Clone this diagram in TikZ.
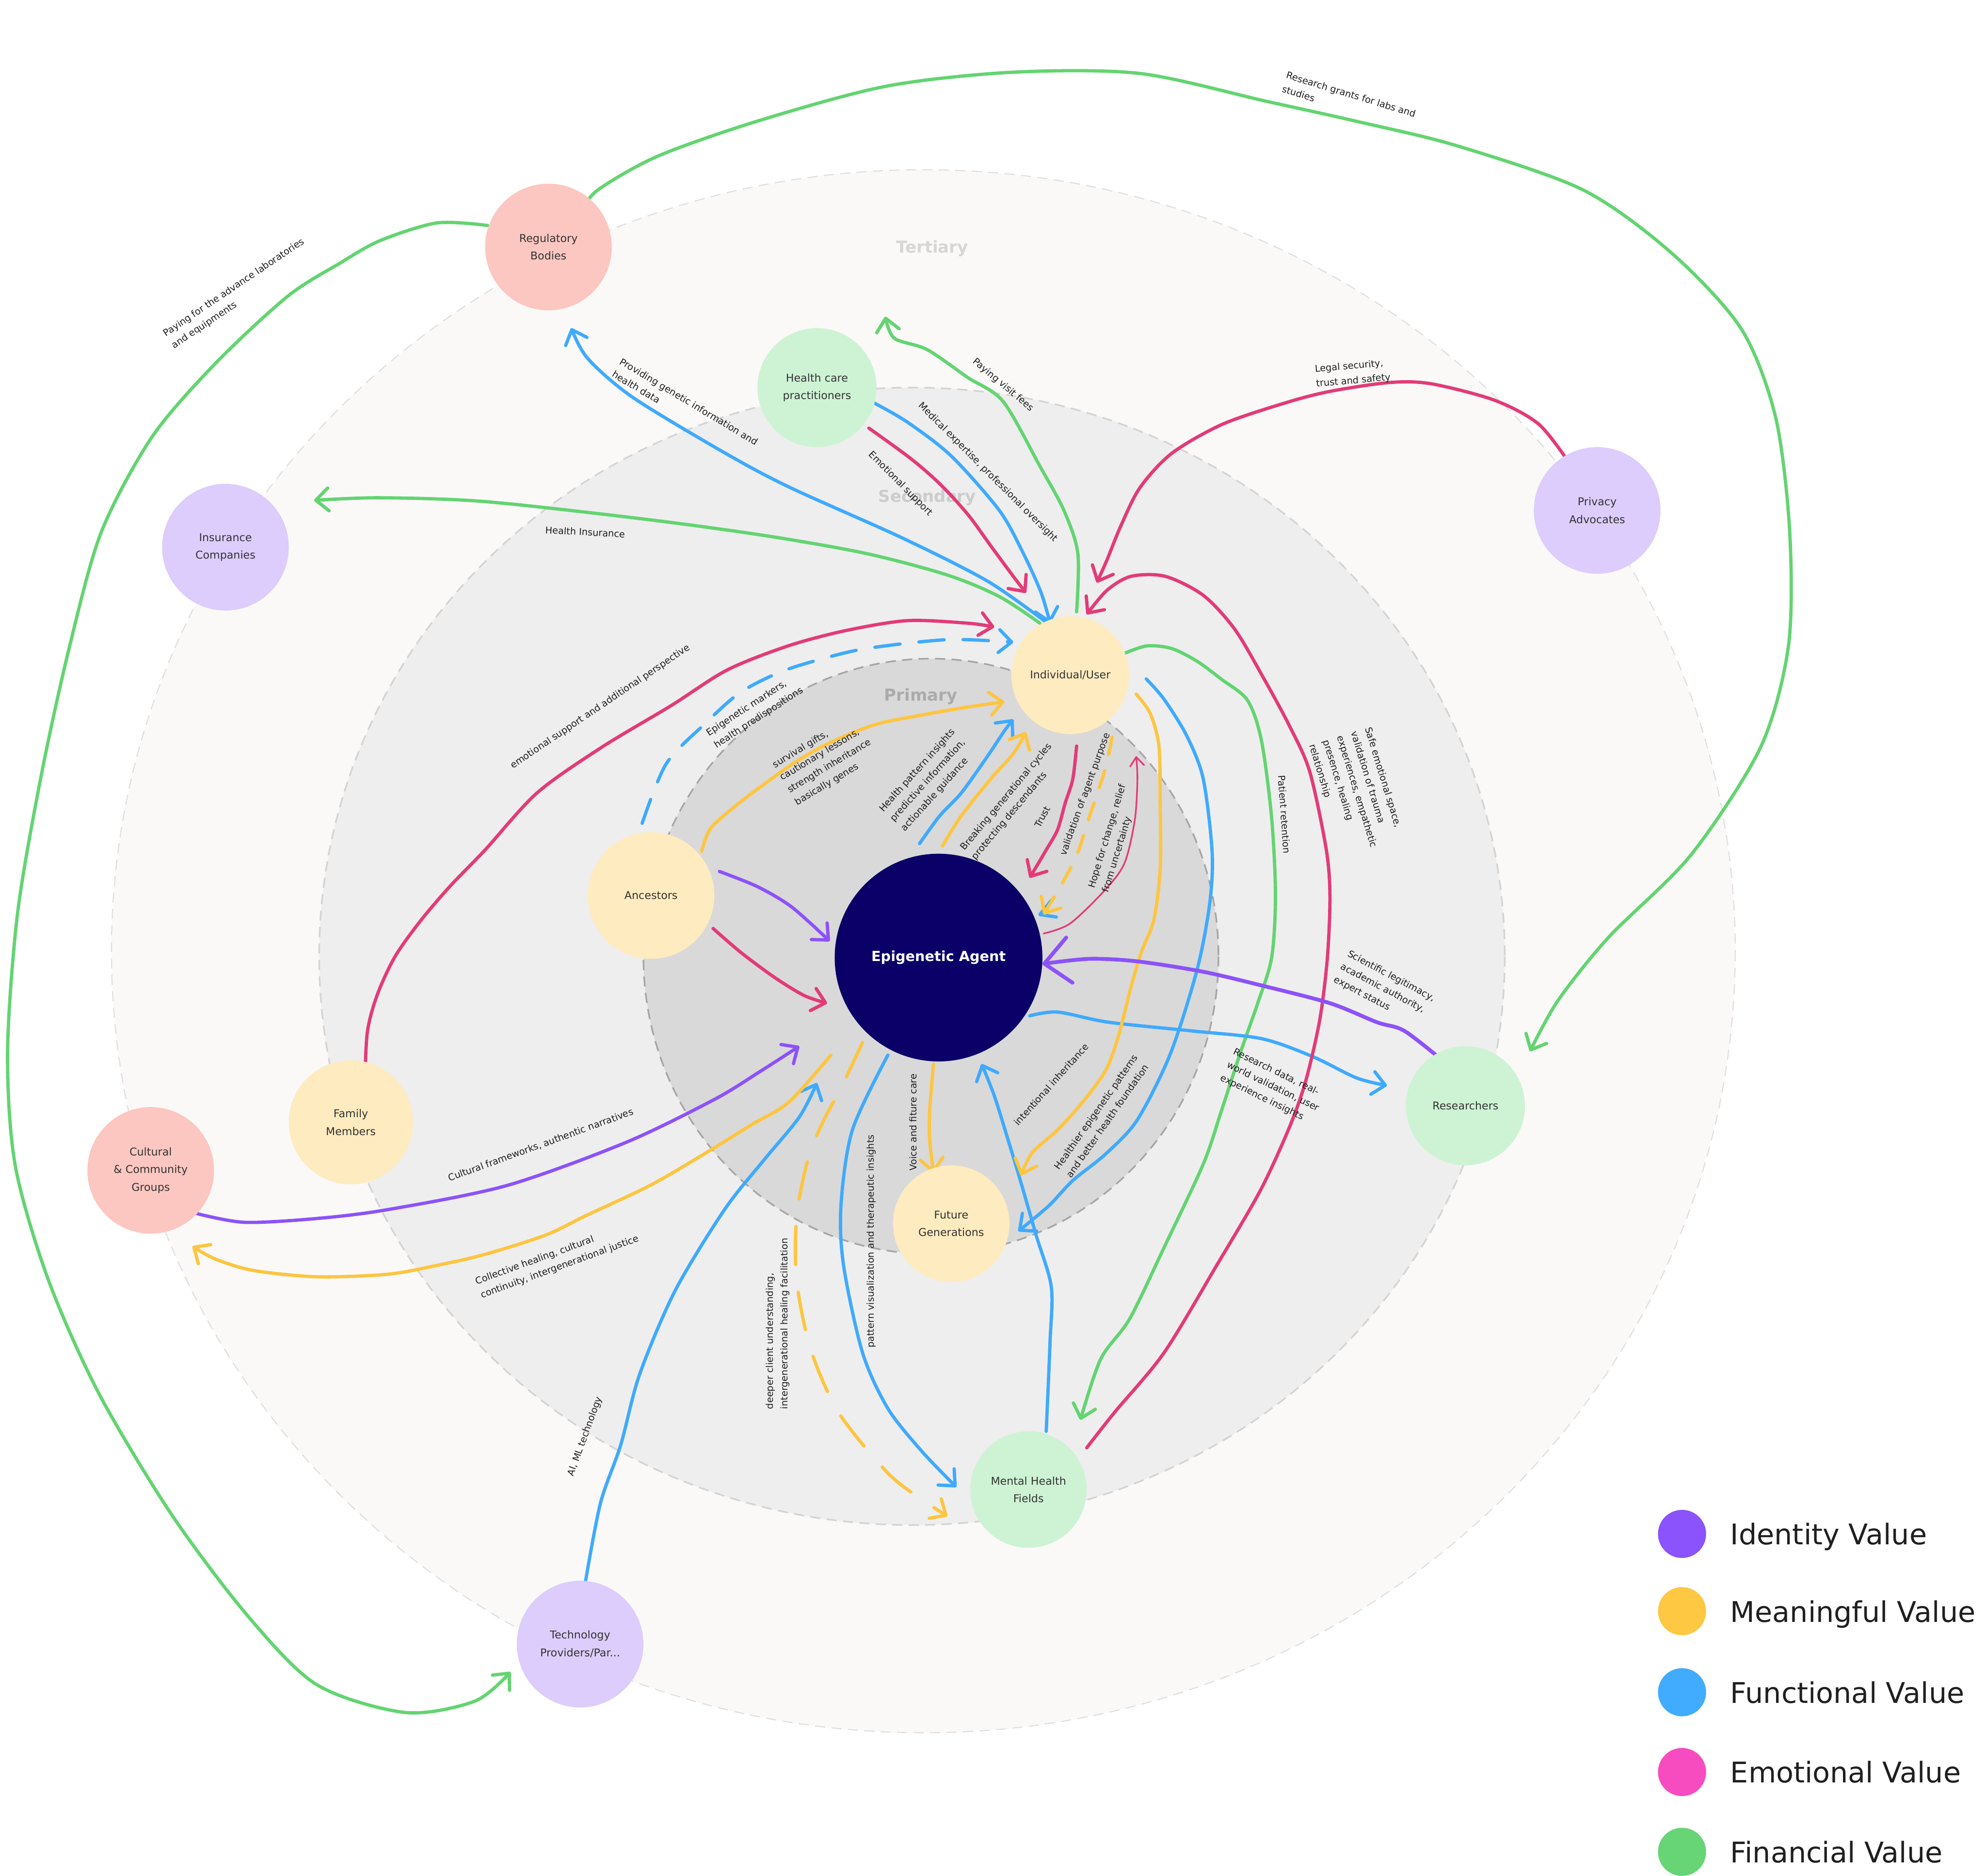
\documentclass[tikz,border=0pt]{standalone}
\usepackage{fontspec}
\setmainfont{DejaVu Sans}
\usetikzlibrary{arrows.meta,calc}
\pgfdeclarelayer{bg}
\pgfdeclarelayer{lines}
\pgfsetlayers{bg,lines,main}
\definecolor{cPur}{HTML}{8C52F8}
\definecolor{cYel}{HTML}{FDC540}
\definecolor{cBlu}{HTML}{3FAAFC}
\definecolor{cPnk}{HTML}{E23B78}
\definecolor{cGrn}{HTML}{63D471}
\definecolor{lPur}{HTML}{8A53FC}
\definecolor{lYel}{HTML}{FEC843}
\definecolor{lBlu}{HTML}{41ACFD}
\definecolor{lPnk}{HTML}{F74CBF}
\definecolor{lGrn}{HTML}{67D476}
\definecolor{fPink}{HTML}{FCC7C0}
\definecolor{fGreen}{HTML}{CDF3D4}
\definecolor{fLav}{HTML}{DCCDFC}
\definecolor{fYel}{HTML}{FEEBBF}
\definecolor{fNavy}{HTML}{0B0068}
\definecolor{ringA}{HTML}{FAF9F8}
\definecolor{ringB}{HTML}{EEEEEE}
\definecolor{ringC}{HTML}{D9D9D9}
\tikzset{
  conn/.style={line width=2.6pt, line cap=round, line join=round},
  tipA/.style={-{Straight Barb[length=10pt,width=18pt,round]}},
  tipS/.style={-{Straight Barb[length=7pt,width=11pt,round]}},
  tipB/.style={-{Straight Barb[length=20pt,width=36pt,round]}},
  dashL/.style={dash pattern=on 30pt off 22pt},
  dashM/.style={dash pattern=on 20pt off 15pt},
  dashS/.style={dash pattern=on 14pt off 13pt},
  actor/.style={circle, inner sep=0pt, align=center, text=black!80, font=\fontsize{8.5}{14}\selectfont},
  lab/.style={inner sep=0pt, align=left, text=black!88, font=\fontsize{7.4}{11.5}\selectfont},
  ringlab/.style={font=\bfseries\fontsize{13}{15}\selectfont},
  legtext/.style={anchor=base west, inner sep=0pt, text=black!88, font=\fontsize{22.5}{26}\selectfont},
  legdot/.style={circle, inner sep=0pt, minimum size=38pt},
  sm/.style={smooth, tension=0.5}
}
\begin{document}
\begin{tikzpicture}[x=1pt,y=-1pt]
\useasboundingbox (0,0) rectangle (1568,1481);
\begin{pgfonlayer}{bg}
\fill[white] (0,0) rectangle (1568,1481);
\filldraw[fill=ringA, draw=black!12, dash pattern=on 8pt off 5pt, line width=0.9pt] (729,751) ellipse [x radius=641, y radius=617];
\filldraw[fill=ringB, draw=black!17, dash pattern=on 8pt off 5pt, line width=1.3pt] (720,755) ellipse [x radius=468, y radius=449];
\filldraw[fill=ringC, draw=black!35, dash pattern=on 8pt off 5pt, line width=1.3pt] (735,755) ellipse [x radius=227, y radius=235];
\node[ringlab, text=black!16] (tert) at (736,196) {Tertiary};
\node[ringlab, text=black!20] (seco) at (732,393) {Secondary};
\node[ringlab, text=black!33] (prim) at (727,550) {Primary};
\end{pgfonlayer}

% actors
\node[actor, fill=fPink, minimum size=100pt] (rb) at (433,195) {Regulatory\\Bodies};
\node[actor, fill=fGreen, minimum size=94pt] (hcp) at (645,306) {Health care\\practitioners};
\node[actor, fill=fLav, minimum size=100pt] (ic) at (178,432) {Insurance\\Companies};
\node[actor, fill=fLav, minimum size=100pt] (pa) at (1261,403) {Privacy\\Advocates};
\node[actor, fill=fYel, minimum size=93pt] (iu) at (845,533) {Individual/User};
\node[actor, fill=fYel, minimum size=100pt] (an) at (514,707) {Ancestors};
\node[actor, fill=fYel, minimum size=98pt] (fm) at (277,886) {Family\\Members};
\node[actor, fill=fPink, minimum size=100pt] (cg) at (119,924) {Cultural\\\& Community\\Groups};
\node[actor, fill=fYel, minimum size=92pt] (fg) at (751,966) {Future\\Generations};
\node[actor, fill=fGreen, minimum size=94pt] (rs) at (1157,873) {Researchers};
\node[actor, fill=fGreen, minimum size=92pt] (mh) at (812,1176) {Mental Health\\Fields};
\node[actor, fill=fLav, minimum size=100pt] (tp) at (458,1298) {Technology\\Providers/Par...};
\node[circle, fill=fNavy, minimum size=164pt, inner sep=0pt, text=white, font=\bfseries\fontsize{11}{13}\selectfont] (ea) at (741,756) {Epigenetic Agent};

\begin{pgfonlayer}{lines}
% green (financial)
\draw[conn, cGrn, tipA] plot[sm] coordinates {($(rb)+(25,-27)$) (472,150) (520,123) (600,95) (700,68) (800,57) (900,58) (1000,80) (1072,96) (1150,115) (1250,150) (1320,200) (1375,260) (1402,330) (1413,420) (1412,510) (1390,590) (1335,675) (1270,740) (1230,790) ($(rs)+(51,-43)$)};
\draw[conn, cGrn, tipA] plot[sm] coordinates {($(rb)+(-48,-17)$) (345,176) (300,190) (268,208) (227,234) (170,287) (120,345) (80,420) (55,510) (33,610) (14,720) (6,830) (12,920) (38,1010) (78,1100) (135,1195) (195,1275) (250,1330) (320,1352) (375,1343) ($(tp)+(-55,22)$)};
\draw[conn, cGrn, tipA] plot[sm] coordinates {($(iu)+(-24,-41)$) (789,471) (748,454) (684,437) (605,423) (510,410) (383,396) (300,393) ($(ic)+(70,-37)$)};
\draw[conn, cGrn, tipA] plot[sm] coordinates {($(iu)+(5,-50)$) (851,437) (840,403) (821,368) (792,317) (764,298) (732,276) (706,267) ($(hcp)+(54,-56)$)};
\draw[conn, cGrn, tipA] plot[sm] coordinates {($(iu)+(40,-16)$) (905,510) (925,512) (945,522) (964,536) (985,553) (996,585) (1004,646) (1007,707) (1004,756) (993,792) (980,829) (964,878) (950,919) (919,985) (892,1041) (869,1073) ($(mh)+(41,-55)$)};
% blue (functional)
\draw[conn, cBlu, tipA] plot[sm] coordinates {($(iu)+(-18,-41)$) (780,459) (713,425) (624,385) (573,358) (500,314) (464,283) ($(rb)+(18,64)$)};
\draw[conn, cBlu, tipA] plot[sm] coordinates {($(hcp)+(43,11)$) (716,333) (751,360) (789,403) (808,437) (822,468) ($(iu)+(-16,-41)$)};
\draw[conn, cBlu, tipA] plot[sm] coordinates {($(mh)+(14,-46)$) (829,1060) (830,1016) (818,975) (805,930) (795,897) (785,865) ($(ea)+(34,84)$)};
\draw[conn, cBlu, tipA] plot[sm] coordinates {($(iu)+(60,3)$) (919,552) (937,581) (950,615) (957,673) (955,714) (945,766) (924,832) (898,884) (873,911) (847,932) (828,952) ($(fg)+(53,6)$)};
\draw[conn, cBlu, tipA] plot[sm] coordinates {($(ea)+(-40,77)$) (673,892) (664,951) (666,999) (681,1068) (701,1112) (728,1146) ($(mh)+(-57,-2)$)};
\draw[conn, cBlu, tipA] plot[sm] coordinates {($(tp)+(4,-48)$) (474,1187) (490,1141) (505,1085) (533,1019) (572,955) (603,916) (631,882) ($(ea)+(-96,99)$)};
\draw[conn, cBlu, tipA, dashM] plot[sm] coordinates {($(an)+(-7,-57)$) (526,603) (557,571) (584,547) (615,531) (646,521) (684,512) (748,505) ($(iu)+(-45,-26)$)};
\draw[conn, cBlu, tipA] plot[sm] coordinates {($(ea)+(-15,-90)$) (742,644) (759,626) (779,598) (793,577) ($(iu)+(-45,35)$)};
\draw[conn, cBlu, tipA] plot[sm] coordinates {($(ea)+(72,46)$) (835,799) (875,807) (942,814) (996,820) (1036,834) (1071,851) ($(rs)+(-62,-16)$)};
\draw[conn, cBlu] ($(ea)+(89,-45)$) -- ($(ea)+(80,-34)$) -- ($(ea)+(93,-32)$);
% yellow (meaningful)
\draw[conn, cYel, tipA] plot[sm] coordinates {($(iu)+(52,15)$) (908,563) (915,589) (916,634) (916,686) (911,726) (901,752) (893,779) (883,818) (873,845) (854,871) (835,892) (815,910) ($(fg)+(55,-38)$)};
\draw[conn, cYel, tipA] plot[sm] coordinates {($(ea)+(-4,84)$) (734,877) (734,900) ($(fg)+(-14,-40)$)};
\draw[conn, cYel, tipA, dashL] plot[sm] coordinates {($(ea)+(-60,67)$) (664,859) (650,885) (638,915) (629,960) (629,1011) (640,1065) (662,1115) (700,1162) (725,1182) ($(mh)+(-64,21)$)};
\draw[conn, cYel, tipA] plot[sm] coordinates {($(ea)+(-85,77)$) (623,870) (595,887) (556,911) (513,936) (462,960) (431,975) (384,990) (345,999) (306,1006) (250,1008) (200,1003) (170,994) ($(cg)+(33,60)$)};
\draw[conn, cYel, tipA] plot[sm] coordinates {($(an)+(40,-35)$) (561,654) (581,636) (602,620) (629,601) (656,586) (691,572) (725,565) (759,559) ($(iu)+(-52,21)$)};
\draw[conn, cYel, tipA] plot[sm] coordinates {($(ea)+(3,-88)$) (759,644) (783,614) (800,595) ($(iu)+(-35,45)$)};
\draw[conn, cYel, tipA, dashS] plot[sm] coordinates {($(iu)+(33,49)$) (872,609) (859,648) (851,673) (840,695) (830,712) ($(ea)+(83,-34)$)};
% pink (emotional)
\draw[conn, cPnk, tipA] plot[sm] coordinates {($(hcp)+(41,32)$) (719,362) (742,382) (764,406) (783,432) (800,455) ($(iu)+(-35,-65)$)};
\draw[conn, cPnk, tipA] plot[sm] coordinates {($(pa)+(-21,-36)$) (1215,335) (1180,316) (1130,303) (1097,302) (1050,309) (1015,318) (965,335) (925,358) (900,385) (885,415) (874,442) ($(iu)+(21,-73)$)};
\draw[conn, cPnk, tipA] plot[sm] coordinates {($(mh)+(46,-33)$) (880,1115) (919,1068) (960,1000) (995,940) (1018,890) (1031,853) (1042,805) (1048,756) (1050,707) (1047,670) (1034,609) (1018,573) (998,536) (975,497) (950,470) (920,455) (893,455) (874,466) ($(iu)+(13,-48)$)};
\draw[conn, cPnk, tipA] plot[sm] coordinates {($(fm)+(11,-28)$) (290,815) (298,785) (312,755) (332,727) (355,700) (383,671) (424,626) (475,590) (530,557) (574,529) (622,510) (667,498) (716,490) (764,492) ($(iu)+(-60,-38)$)};
\draw[conn, cPnk, tipA] plot[sm] coordinates {($(iu)+(5,56)$) (847,615) (841,634) (835,655) (826,671) ($(ea)+(72,-63)$)};
\draw[cPnk, line width=1.3pt, line cap=round, tipS] plot[sm] coordinates {($(ea)+(83,-19)$) (845,729) (873,702) (888,681) (896,647) (898,615) ($(iu)+(52,64)$)};
\draw[conn, cPnk, tipA] plot[sm] coordinates {($(an)+(49,26)$) (585,752) (612,772) (635,786) ($(ea)+(-88,36)$)};
% purple (identity)
\draw[conn, cPur, tipA] plot[sm] coordinates {($(an)+(54,-19)$) (598,700) (625,716) ($(ea)+(-86,-13)$)};
\draw[conn, cPur, tipA] plot[sm] coordinates {($(cg)+(36,34)$) (193,965) (250,962) (306,955) (400,936) (494,902) (564,868) (600,846) ($(ea)+(-110,70)$)};
\draw[line width=3pt, line cap=round, line join=round, cPur, tipB] plot[sm] coordinates {($(rs)+(-16,-34)$) (1109,814) (1087,807) (1050,792) (996,778) (949,767) (898,759) (860,757) ($(ea)+(82,5)$)};
\end{pgfonlayer}

% labels
\node[lab, rotate=-17] (l1) at (1065,80) {Research grants for labs and\\studies};
\node[lab, rotate=34] (l2) at (188,232) {Paying for the advance laboratories\\and equipments};
\node[lab, rotate=-3] (l3) at (462,420) {Health Insurance};
\node[lab, rotate=-31] (l4) at (541,322) {Providing genetic information and\\health data};
\node[lab, rotate=-40] (l5) at (792,304) {Paying visit fees};
\node[lab, rotate=-45] (l6) at (780,373) {Medical expertise, professional oversight};
\node[lab, rotate=-45] (l7) at (711,382) {Emotional support};
\node[lab, rotate=5] (l8) at (1068,295) {Legal security,\\trust and safety};
\node[lab, rotate=-73] (l9) at (1071,625) {Safe emotional space,\\validation of trauma\\experiences, empathetic\\presence, healing\\relationship};
\node[lab, rotate=-86] (l10) at (1014,643) {Patient retention};
\node[lab, rotate=-28] (l11) at (1093,781) {Scientific legitimacy,\\academic authority,\\expert status};
\node[lab, rotate=-26] (l12) at (1005,858) {Research data, real-\\world validation, user\\experience insights};
\node[lab, rotate=55] (l13) at (870,881) {Healthier epigenetic patterns\\and better health foundation};
\node[lab, rotate=48] (l14) at (830,856) {intentional inheritance};
\node[lab, rotate=90] (l15) at (721,886) {Voice and fiture care};
\node[lab, rotate=90] (l16) at (688,980) {pattern visualization and therapeutic insights};
\node[lab, rotate=90] (l17) at (614,1045) {deeper client understanding,\\intergenerational healing facilitation};
\node[lab, rotate=70] (l18) at (462,1134) {AI, ML technology};
\node[lab, rotate=20] (l19) at (440,995) {Collective healing, cultural\\continuity, intergenerational justice};
\node[lab, rotate=20] (l20) at (427,904) {Cultural frameworks, authentic narratives};
\node[lab, rotate=34] (l21) at (474,558) {emotional support and additional perspective};
\node[lab, rotate=33] (l22) at (596,562) {Epigenetic markers,\\health predispositions};
\node[lab, rotate=31] (l23) at (652,600) {survival gifts,\\cautionary lessons,\\strength inheritance\\basically genes};
\node[lab, rotate=48] (l24) at (733,616) {Health pattern insights\\predictive information,\\actionable guidance};
\node[lab, rotate=50] (l25) at (799,633) {Breaking generational cycles\\protecting descendants};
\node[lab, rotate=62] (l26) at (823,645) {Trust};
\node[lab, rotate=70] (l27) at (857,627) {validation of agent purpose};
\node[lab, rotate=73] (l28) at (880,662) {Hope for change, relief\\from uncertainty};

% legend
\node[legdot, fill=lPur] (g1) at (1328,1211) {};
\node[legdot, fill=lYel] (g2) at (1328,1272) {};
\node[legdot, fill=lBlu] (g3) at (1328,1336) {};
\node[legdot, fill=lPnk] (g4) at (1328,1399) {};
\node[legdot, fill=lGrn] (g5) at (1328,1462) {};
\node[legtext] (t1) at (1366,1219.5) {Identity Value};
\node[legtext] (t2) at (1366,1280.5) {Meaningful Value};
\node[legtext] (t3) at (1366,1344.5) {Functional Value};
\node[legtext] (t4) at (1366,1407.5) {Emotional Value};
\node[legtext] (t5) at (1366,1470.5) {Financial Value};
\end{tikzpicture}
\end{document}
